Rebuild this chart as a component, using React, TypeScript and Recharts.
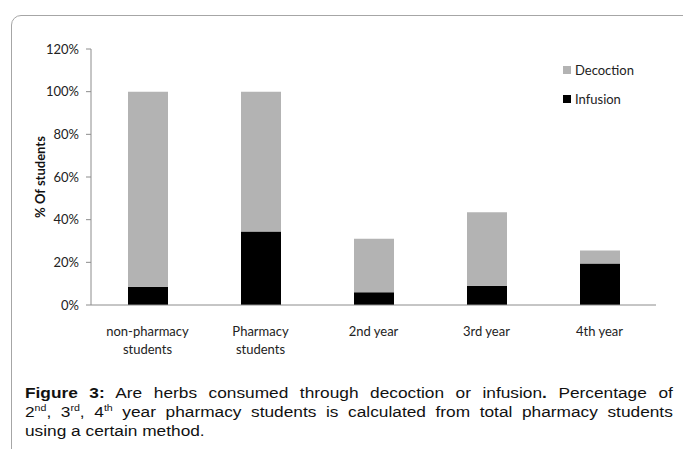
import { BarChart, Bar, XAxis, YAxis } from "recharts"

const categoryLines: string[][] = [
  ["non-pharmacy", "students"],
  ["Pharmacy", "students"],
  ["2nd year"],
  ["3rd year"],
  ["4th year"],
]
const categories = categoryLines.map((l) => l.join(" "))
const infusion = [0.085, 0.345, 0.06, 0.09, 0.195]
const decoction = [0.915, 0.655, 0.25, 0.345, 0.06]
const yTicks = [0, 0.2, 0.4, 0.6, 0.8, 1.0, 1.2]

const seriesNames = ["Decoction", "Infusion"]
const seriesColors = ["#b3b3b3", "#000000"]

const data = categories.map((c, i) => ({
  category: c,
  Infusion: infusion[i],
  Decoction: decoction[i],
}))

const font = "Lato, 'Open Sans', sans-serif"

function XTick(props: any) {
  const { x, y, index } = props
  const lines = categoryLines[index] || []
  return (
    <text x={x} y={y} textAnchor="middle" fontSize={13} fontFamily={font} fill="#222">
      {lines.map((l, i) => (
        <tspan key={i} x={x} dy={i === 0 ? 23 : 18}>
          {l}
        </tspan>
      ))}
    </text>
  )
}

const sup = { fontSize: 9.5, lineHeight: 0 }
const justified = { textAlign: "justify" as const, textAlignLast: "justify" as const, whiteSpace: "nowrap" as const }

export default function App() {
  return (
    <div
      style={{
        position: "absolute",
        left: 0,
        top: 0,
        width: 683,
        height: 449,
        overflow: "hidden",
        background: "#fff",
      }}
    >
      <div
        style={{
          position: "absolute",
          left: 11,
          top: 15,
          width: 720,
          height: 480,
          border: "1px solid #a6a6a6",
          borderRadius: 10,
        }}
      />
      <div style={{ position: "absolute", left: 0, top: 0 }}>
        <BarChart
          width={683}
          height={380}
          data={data}
          margin={{ top: 49, right: 27, left: 0, bottom: 31 }}
          barSize={40}
        >
          <XAxis
            dataKey="category"
            height={44}
            axisLine={{ stroke: "#8c8c8c" }}
            tickLine={false}
            interval={0}
            tick={<XTick />}
          />
          <YAxis
            width={91}
            domain={[0, 1.2]}
            ticks={yTicks}
            tickFormatter={(v: number) => `${Math.round(v * 100)}%`}
            axisLine={{ stroke: "#8c8c8c" }}
            tickLine={{ stroke: "#8c8c8c" }}
            tickSize={5}
            tickMargin={7}
            tick={{ fill: "#222", fontSize: 13, fontFamily: font }}
            label={{
              value: "% Of students",
              angle: -90,
              position: "insideLeft",
              offset: 40,
              style: { fontFamily: font, fontSize: 13, fontWeight: 700, fill: "#111", textAnchor: "middle" },
            }}
          />
          <Bar dataKey="Infusion" stackId="a" fill="#000000" isAnimationActive={false} />
          <Bar dataKey="Decoction" stackId="a" fill="#b3b3b3" isAnimationActive={false} />
        </BarChart>
      </div>
      <div
        style={{
          position: "absolute",
          left: 563,
          top: 55,
          fontFamily: font,
          fontSize: 13,
          color: "#222",
        }}
      >
        {seriesNames.map((n, i) => (
          <div key={n} style={{ display: "flex", alignItems: "center", height: 29.5 }}>
            <span
              style={{
                width: 8,
                height: 8,
                background: seriesColors[i],
                display: "inline-block",
                marginRight: 4,
              }}
            />
            {n}
          </div>
        ))}
      </div>
      <div
        style={{
          position: "absolute",
          left: 25,
          top: 383,
          width: 581,
          transform: "scaleX(1.115)",
          transformOrigin: "0 0",
          fontFamily: "'Liberation Sans', Arial, sans-serif",
          fontSize: 15.5,
          lineHeight: "19px",
          color: "#111",
        }}
      >
        <div style={justified}>
          <b>Figure 3:</b> Are herbs consumed through decoction or infusion<b>.</b> Percentage of
        </div>
        <div style={justified}>
          2<sup style={sup}>nd</sup>, 3<sup style={sup}>rd</sup>, 4<sup style={sup}>th</sup> year pharmacy students is
          calculated from total pharmacy students
        </div>
        <div>using a certain method.</div>
      </div>
    </div>
  )
}
